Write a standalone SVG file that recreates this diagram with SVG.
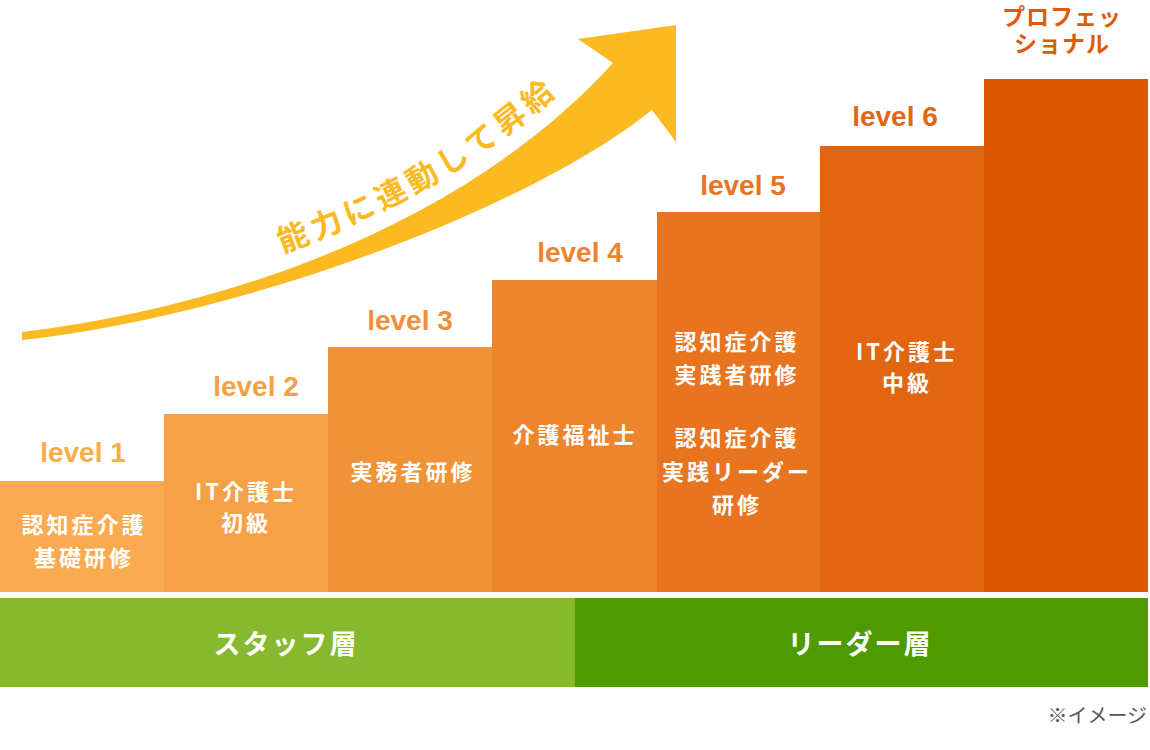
<svg xmlns="http://www.w3.org/2000/svg" width="1150" height="750" viewBox="0 0 1150 750">
<defs>
<style>
.lvl{font-family:"Liberation Sans",Arial,sans-serif;font-weight:bold;font-size:28px;text-anchor:middle}
.bt{font-family:"Noto Sans CJK JP","Noto Sans",sans-serif;font-weight:bold;font-size:22px;fill:#fff;text-anchor:middle;letter-spacing:3px}
.band{font-family:"Noto Sans CJK JP","Noto Sans",sans-serif;font-weight:bold;font-size:27px;fill:#fff;text-anchor:middle;letter-spacing:2px}
.pro{font-family:"Noto Sans CJK JP","Noto Sans",sans-serif;font-weight:bold;font-size:23px;fill:#DD5A0C;text-anchor:middle;letter-spacing:1px}
.arrowtxt{font-family:"Noto Sans CJK JP","Noto Sans",sans-serif;font-weight:bold;font-size:31px;fill:#FBBA22;letter-spacing:5px}
</style>
<path id="txtpath" d="M20,314 C219,290 453,214 600,51"/>
</defs>
<rect width="1150" height="750" fill="#fff"/>

<g id="connectors">
<g id="growth-arrow">
<path d="M22,332 C222,308 463,228 613,63 L578,39 L676,25 L676,142 L652,110 C520,215 230,318 22,340 Z" fill="#FBBA22"/>
<text class="arrowtxt"><textPath href="#txtpath" startOffset="270">能力に連動して昇給</textPath></text>
</g>
</g>

<g id="level1">
<rect x="0" y="481" width="164" height="111" fill="#FAAA50"/>
<text class="lvl" x="83" y="462" fill="#F8AD4B">level 1</text>
<text class="bt" x="84" y="533">認知症介護</text>
<text class="bt" x="84" y="566">基礎研修</text>
</g>
<g id="level2">
<rect x="164" y="414" width="164" height="178" fill="#F6A047"/>
<text class="lvl" x="256" y="396" fill="#F5A044">level 2</text>
<text class="bt" x="246" y="500">IT介護士</text>
<text class="bt" x="246" y="531">初級</text>
</g>
<g id="level3">
<rect x="328" y="347" width="164" height="245" fill="#F09238"/>
<text class="lvl" x="410" y="330" fill="#EF9038">level 3</text>
<text class="bt" x="413" y="480">実務者研修</text>
</g>
<g id="level4">
<rect x="492" y="280" width="165" height="312" fill="#ED852D"/>
<text class="lvl" x="580" y="262" fill="#EC832E">level 4</text>
<text class="bt" x="575" y="443">介護福祉士</text>
</g>
<g id="level5">
<rect x="657" y="212" width="163" height="380" fill="#E87420"/>
<text class="lvl" x="743" y="195" fill="#E77522">level 5</text>
<text class="bt" x="737" y="350">認知症介護</text>
<text class="bt" x="737" y="383">実践者研修</text>
<text class="bt" x="737" y="446">認知症介護</text>
<text class="bt" x="737" y="480">実践リーダー</text>
<text class="bt" x="737" y="513">研修</text>
</g>
<g id="level6">
<rect x="820" y="146" width="164" height="446" fill="#E2650F"/>
<text class="lvl" x="895" y="126" fill="#E16716">level 6</text>
<text class="bt" x="907" y="360">IT介護士</text>
<text class="bt" x="907" y="391">中級</text>
</g>
<g id="professional">
<rect x="984" y="79" width="164" height="513" fill="#DC5500"/>
<text class="pro" x="1062" y="25">プロフェッ</text>
<text class="pro" x="1062" y="52">ショナル</text>
</g>

<g id="staff-band">
<rect x="0" y="598" width="575" height="89" fill="#86B92E"/>
<text class="band" x="286" y="654">スタッフ層</text>
</g>
<g id="leader-band">
<rect x="575" y="598" width="573" height="89" fill="#4E9A00"/>
<text class="band" x="860" y="654">リーダー層</text>
</g>

<text id="note" x="1147" y="723" font-family="'Noto Sans CJK JP','Noto Sans',sans-serif" font-size="20" fill="#555" text-anchor="end">※イメージ</text>
</svg>
